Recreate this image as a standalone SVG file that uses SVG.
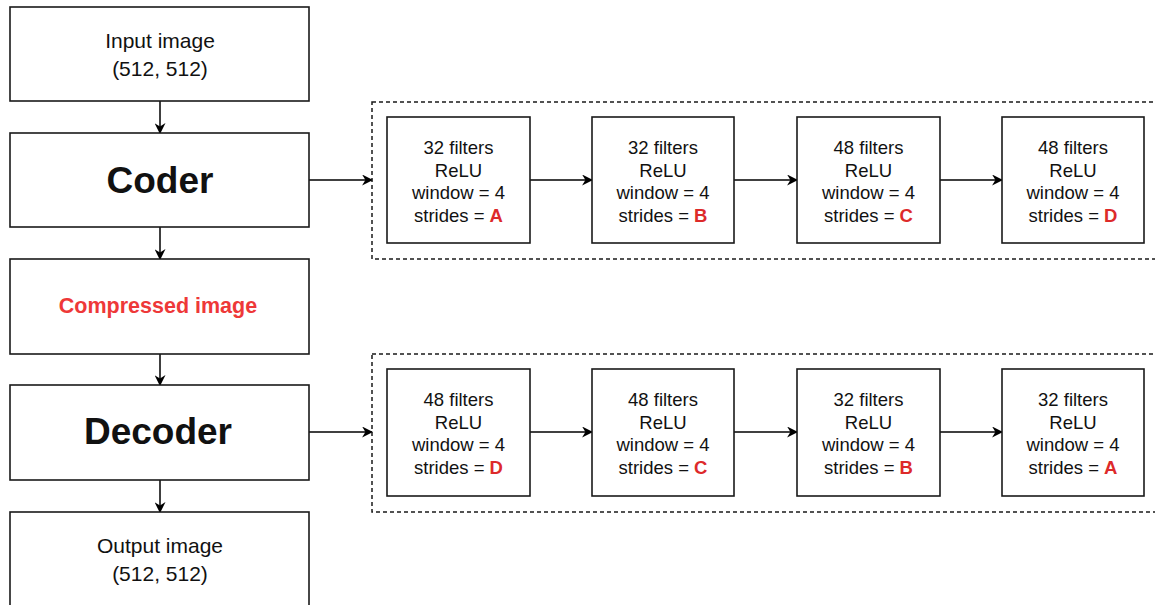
<svg xmlns="http://www.w3.org/2000/svg" width="1155" height="605" viewBox="0 0 1155 605">
<defs>
<marker id="arr" viewBox="0 0 10 10" refX="9" refY="5" markerWidth="11" markerHeight="11" markerUnits="userSpaceOnUse" orient="auto">
<path d="M0,0 L10,5 L0,10 L3,5 z" fill="#000"/>
</marker>
<style>
.box{fill:#fff;stroke:#1a1a1a;stroke-width:1.6}
.dash{fill:none;stroke:#1a1a1a;stroke-width:1.5;stroke-dasharray:4 3}
.ln{stroke:#000;stroke-width:1.5;fill:none;marker-end:url(#arr)}
.t{font-family:"Liberation Sans",Arial,sans-serif;fill:#111;text-anchor:middle}
.s{font-size:18.5px}
.m{font-size:21px}
.big{font-size:37px;font-weight:bold}
.red{fill:#dd2a2a;font-weight:bold}
.cred{fill:#ee3838;font-weight:bold;font-size:21.5px}
</style>
</defs>
<rect width="1155" height="605" fill="#fff"/>
<g id="connectors">
<line class="ln" x1="160" y1="101" x2="160" y2="133"/>
<line class="ln" x1="160" y1="227" x2="160" y2="259"/>
<line class="ln" x1="160" y1="354" x2="160" y2="385"/>
<line class="ln" x1="160" y1="480" x2="160" y2="512"/>
<line class="ln" x1="309" y1="180" x2="372" y2="180"/>
<line class="ln" x1="309" y1="432" x2="372" y2="432"/>
<line class="ln" x1="530" y1="180" x2="592" y2="180"/>
<line class="ln" x1="734" y1="180" x2="797" y2="180"/>
<line class="ln" x1="940" y1="180" x2="1002" y2="180"/>
<line class="ln" x1="530" y1="432" x2="592" y2="432"/>
<line class="ln" x1="734" y1="432" x2="797" y2="432"/>
<line class="ln" x1="940" y1="432" x2="1002" y2="432"/>
</g>
<g id="input"><rect class="box" x="10" y="7" width="299" height="94"/>
<text class="t m" x="160" y="48">Input image</text><text class="t m" x="160" y="76">(512, 512)</text></g>
<g id="coder"><rect class="box" x="10" y="133" width="299" height="94"/>
<text class="t big" x="160" y="193">Coder</text></g>
<g id="compressed"><rect class="box" x="10" y="259" width="299" height="95"/>
<text class="t cred" x="158" y="313">Compressed image</text></g>
<g id="decoder"><rect class="box" x="10" y="385" width="299" height="95"/>
<text class="t big" x="158" y="444">Decoder</text></g>
<g id="output"><rect class="box" x="10" y="512" width="299" height="100"/>
<text class="t m" x="160" y="553">Output image</text><text class="t m" x="160" y="581">(512, 512)</text></g>
<g id="coder-group"><rect class="dash" x="372" y="102" width="800" height="157"/></g>
<g id="decoder-group"><rect class="dash" x="372" y="354" width="800" height="158"/></g>
<g id="c1"><rect class="box" x="387" y="117" width="143" height="126"/>
<text class="t s" x="458.5" y="154">32 filters</text><text class="t s" x="458.5" y="176.5">ReLU</text><text class="t s" x="458.5" y="199">window = 4</text><text class="t s" x="458.5" y="221.5">strides = <tspan class="red">A</tspan></text></g>
<g id="c2"><rect class="box" x="592" y="117" width="142" height="126"/>
<text class="t s" x="663" y="154">32 filters</text><text class="t s" x="663" y="176.5">ReLU</text><text class="t s" x="663" y="199">window = 4</text><text class="t s" x="663" y="221.5">strides = <tspan class="red">B</tspan></text></g>
<g id="c3"><rect class="box" x="797" y="117" width="143" height="126"/>
<text class="t s" x="868.5" y="154">48 filters</text><text class="t s" x="868.5" y="176.5">ReLU</text><text class="t s" x="868.5" y="199">window = 4</text><text class="t s" x="868.5" y="221.5">strides = <tspan class="red">C</tspan></text></g>
<g id="c4"><rect class="box" x="1002" y="117" width="142" height="126"/>
<text class="t s" x="1073" y="154">48 filters</text><text class="t s" x="1073" y="176.5">ReLU</text><text class="t s" x="1073" y="199">window = 4</text><text class="t s" x="1073" y="221.5">strides = <tspan class="red">D</tspan></text></g>
<g id="d1"><rect class="box" x="387" y="369" width="143" height="127"/>
<text class="t s" x="458.5" y="406">48 filters</text><text class="t s" x="458.5" y="428.5">ReLU</text><text class="t s" x="458.5" y="451">window = 4</text><text class="t s" x="458.5" y="473.5">strides = <tspan class="red">D</tspan></text></g>
<g id="d2"><rect class="box" x="592" y="369" width="142" height="127"/>
<text class="t s" x="663" y="406">48 filters</text><text class="t s" x="663" y="428.5">ReLU</text><text class="t s" x="663" y="451">window = 4</text><text class="t s" x="663" y="473.5">strides = <tspan class="red">C</tspan></text></g>
<g id="d3"><rect class="box" x="797" y="369" width="143" height="127"/>
<text class="t s" x="868.5" y="406">32 filters</text><text class="t s" x="868.5" y="428.5">ReLU</text><text class="t s" x="868.5" y="451">window = 4</text><text class="t s" x="868.5" y="473.5">strides = <tspan class="red">B</tspan></text></g>
<g id="d4"><rect class="box" x="1002" y="369" width="142" height="127"/>
<text class="t s" x="1073" y="406">32 filters</text><text class="t s" x="1073" y="428.5">ReLU</text><text class="t s" x="1073" y="451">window = 4</text><text class="t s" x="1073" y="473.5">strides = <tspan class="red">A</tspan></text></g>
</svg>
